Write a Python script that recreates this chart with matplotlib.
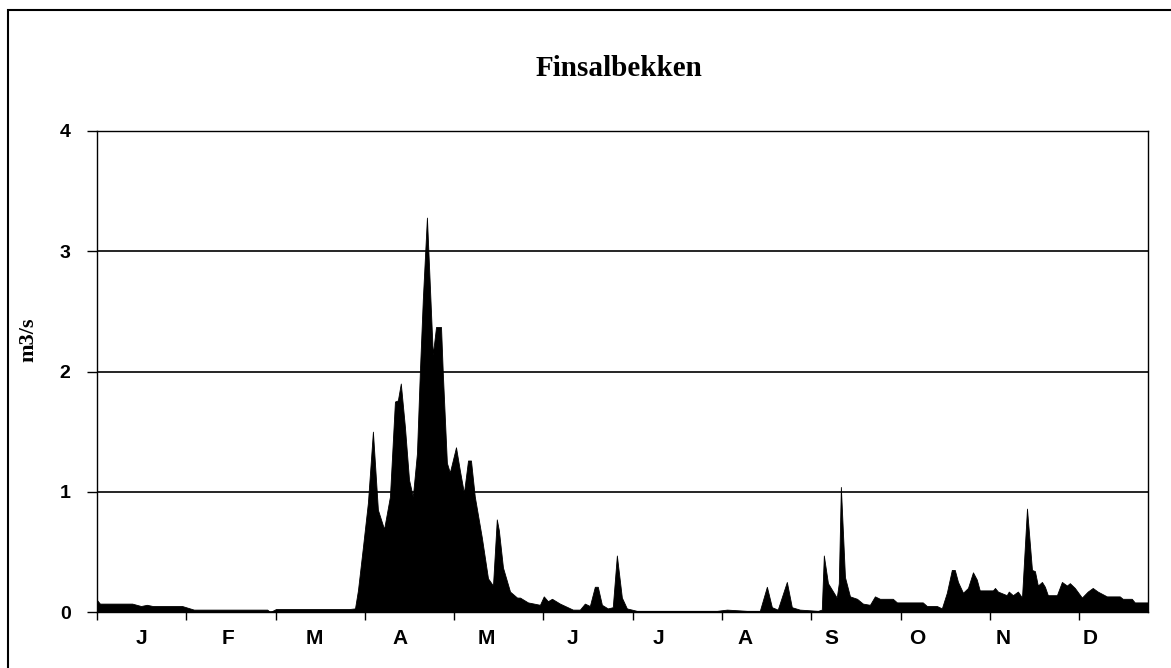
import matplotlib
matplotlib.use("Agg")
import matplotlib.pyplot as plt
from matplotlib.patches import Rectangle

# daily discharge (day of year, m3/s)
days = [0, 1, 12, 15, 17, 19, 29, 33, 58, 59, 61, 86, 87.9, 88.9, 90.6, 92.3, 94.0, 95.7, 97.8,
        99.8, 101.5, 102.5, 103.5, 104.9, 106.3, 107.6, 109.0, 110.0, 111.0, 112.4, 114.4, 115.5,
        117.2, 117.8, 119.2, 120.2, 122.3, 123.6, 125.0, 126.4, 127.4, 128.7, 131.1, 133.2, 134.9,
        136.2, 136.9, 138.3, 140.7, 143.1, 144.1, 146.8, 150.9, 152.2, 153.6, 155.0, 157.7,
        162.1, 164.5, 166.2, 167.9, 169.6, 170.6, 172.0, 174.0, 175.7, 177.1, 178.8, 180.5,
        183.9, 205.4, 211.2, 214.6, 221.4, 225.8, 228.2, 229.9, 231.9, 235.0, 236.7, 239.4,
        245.6, 246.9, 247.6, 249.0, 252.0, 252.7, 253.4, 254.8, 256.5, 258.9, 260.9, 263.3,
        265.0, 266.7, 271.1, 272.5, 281.3, 282.7, 286.1, 287.8, 289.5, 291.2, 292.2, 293.3,
        295.0, 296.7, 298.4, 299.7, 300.7, 305.2, 305.9, 306.9, 309.9, 310.6, 312.0, 313.7,
        315.1, 316.8, 318.5, 319.5, 320.5, 321.9, 322.9, 323.9, 327.0, 328.7, 330.4, 331.4,
        333.1, 335.5, 337.5, 339.2, 340.9, 344.0, 348.4, 349.4, 352.5, 353.5, 358.0]
flow = [0.10, 0.07, 0.07, 0.05, 0.06, 0.05, 0.05, 0.02, 0.02, 0.00, 0.025, 0.025, 0.03, 0.18,
        0.54, 0.91, 1.50, 0.85, 0.69,
        0.96, 1.75, 1.76, 1.90, 1.54, 1.10, 0.96, 1.32, 2.00, 2.60, 3.28, 2.14, 2.37,
        2.37, 1.99, 1.24, 1.16, 1.37, 1.18, 0.99, 1.26, 1.26, 0.96, 0.62, 0.28, 0.22,
        0.77, 0.68, 0.37, 0.17, 0.12, 0.12, 0.08, 0.06, 0.13, 0.09, 0.11, 0.07,
        0.02, 0.02, 0.07, 0.05, 0.21, 0.21, 0.06, 0.03, 0.04, 0.47, 0.12, 0.03,
        0.01, 0.01, 0.01, 0.02, 0.01, 0.01, 0.21, 0.04, 0.02, 0.25, 0.04, 0.02,
        0.01, 0.02, 0.47, 0.24, 0.12, 0.24, 1.04, 0.29, 0.13, 0.11, 0.07, 0.06,
        0.13, 0.11, 0.11, 0.08, 0.08, 0.05, 0.05, 0.03, 0.16, 0.35, 0.35, 0.25,
        0.16, 0.20, 0.33, 0.27, 0.18, 0.18, 0.20, 0.17, 0.14, 0.17, 0.14, 0.17,
        0.12, 0.86, 0.35, 0.34, 0.22, 0.25, 0.21, 0.14, 0.14, 0.25, 0.22, 0.24,
        0.20, 0.12, 0.17, 0.20, 0.17, 0.13, 0.13, 0.11, 0.11, 0.08, 0.08]
months = ["J", "F", "M", "A", "M", "J", "J", "A", "S", "O", "N", "D"]
yticks = [0, 1, 2, 3, 4]

fig = plt.figure(figsize=(11.71, 6.68), dpi=100)
ax = fig.add_axes([0.0828, 0.0838, 0.8975, 0.7201])

ax.fill_between(days, flow, 0, color="black", linewidth=0.6, edgecolor="black")

ax.set_xlim(0, 358)
ax.set_ylim(0, 4)
ax.set_yticks(yticks)
ax.set_yticklabels([str(v) for v in yticks], fontsize=14, fontweight="bold",
                   family="Liberation Sans")
ax.tick_params(axis="y", direction="out", length=7, width=1, pad=12)
ax.grid(axis="y", color="black", linewidth=1.2)
ax.set_axisbelow(True)

# month boundaries as ticks, labels between them
ax.set_xticks([30.42 * k for k in range(12)])
ax.set_xticklabels([])
ax.tick_params(axis="x", which="major", direction="out", length=6, width=1)
ax.set_xticks([15.3 + 29.35 * k for k in range(12)], minor=True)
ax.set_xticklabels(months, minor=True, fontsize=15, fontweight="bold",
                   family="Liberation Sans")
ax.tick_params(axis="x", which="minor", length=0, pad=12)

for s in ax.spines.values():
    s.set_linewidth(1)
    s.set_color("black")

ax.set_ylabel("m3/s", fontsize=16, fontweight="bold", family="Liberation Serif")
ax.yaxis.set_label_coords(-0.056, 0.565)

fig.text(0.529, 0.898, "Finsalbekken", ha="center", va="center", fontsize=21,
         fontweight="bold", family="Liberation Serif")

# outer chart frame
fig.patches.append(Rectangle((0.0068, -0.05), 1.1, 1.0350, transform=fig.transFigure,
                             fill=False, edgecolor="black", linewidth=1.5))

fig.savefig("out.png", dpi=100)
